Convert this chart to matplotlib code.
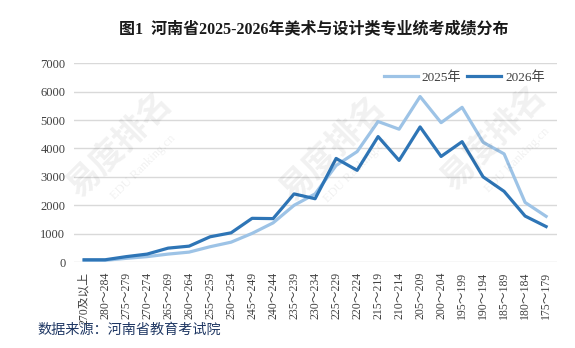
import matplotlib
matplotlib.use("Agg")
import matplotlib.pyplot as plt

plt.rcParams["font.family"] = ["Liberation Serif", "Noto Sans CJK SC", "DejaVu Sans"]

# 分数段与两年人数
score_bands = ["270及以上", "280～284", "275～279", "270～274", "265～269", "260～264",
               "255～259", "250～254", "245～249", "240～244", "235～239", "230～234",
               "225～229", "220～224", "215～219", "210～214", "205～209", "200～204",
               "195～199", "190～194", "185～189", "180～184", "175～179"]
counts_2025 = [60, 60, 130, 190, 280, 350, 540, 700, 1010, 1380, 2000, 2400,
               3400, 3890, 4950, 4680, 5830, 4910, 5450, 4220, 3810, 2100, 1610]
counts_2026 = [80, 80, 190, 280, 490, 560, 890, 1030, 1540, 1530, 2400, 2230,
               3650, 3230, 4420, 3580, 4760, 3720, 4240, 3000, 2490, 1620, 1250]
yticks = [0, 1000, 2000, 3000, 4000, 5000, 6000, 7000]

fig = plt.figure(figsize=(5.75, 3.48), dpi=100, facecolor="white")
ax = fig.add_axes([0.128, 0.247, 0.840, 0.571])

# 背景水印
for cx, cy in [(0.21, 0.58), (0.58, 0.57), (0.86, 0.60)]:
    fig.text(cx, cy, "易度排名", rotation=45, ha="center", va="center",
             fontsize=24, fontweight="bold", color="#000000", alpha=0.06,
             family="Noto Sans CJK SC", zorder=0)
    fig.text(cx + 0.04, cy - 0.06, "EDU Ranking.cn", rotation=45, ha="center",
             va="center", fontsize=9, color="#000000", alpha=0.06, zorder=0)

x = list(range(len(score_bands)))
ax.plot(x, counts_2025, color="#9DC3E6", linewidth=2.3, label="2025年", zorder=3)
ax.plot(x, counts_2026, color="#2E75B6", linewidth=2.3, label="2026年", zorder=4)

ax.set_facecolor("none")
ax.set_xlim(-0.5, len(score_bands) - 0.5)
ax.set_ylim(0, 7000)
ax.set_yticks(yticks)
ax.set_yticklabels([str(v) for v in yticks], color="#404040", fontsize=9)
ax.set_xticks(x)
ax.set_xticklabels(score_bands, rotation=90, color="#404040", fontsize=8.5)
ax.tick_params(axis="both", length=0)
ax.tick_params(axis="y", pad=6)
ax.tick_params(axis="x", pad=7)

ax.grid(axis="y", color="#D9D9D9", linewidth=1.0)
ax.set_axisbelow(True)
for s in ax.spines.values():
    s.set_visible(False)

ax.legend(loc="upper right", bbox_to_anchor=(1.0, 1.02), ncol=2, frameon=False,
          fontsize=9.5, handlelength=2.6, columnspacing=0.4, handletextpad=0.3,
          labelcolor="#404040")

fig.text(0.545, 0.913, "图1  河南省2025-2026年美术与设计类专业统考成绩分布",
         ha="center", va="center", fontsize=11.5, fontweight="bold", color="#1a1a1a")
fig.text(0.066, 0.052, "数据来源：河南省教育考试院", ha="left", va="center",
         fontsize=10.2, style="italic", color="#203864")

fig.savefig("out.png", dpi=100, facecolor="white")
plt.close(fig)
